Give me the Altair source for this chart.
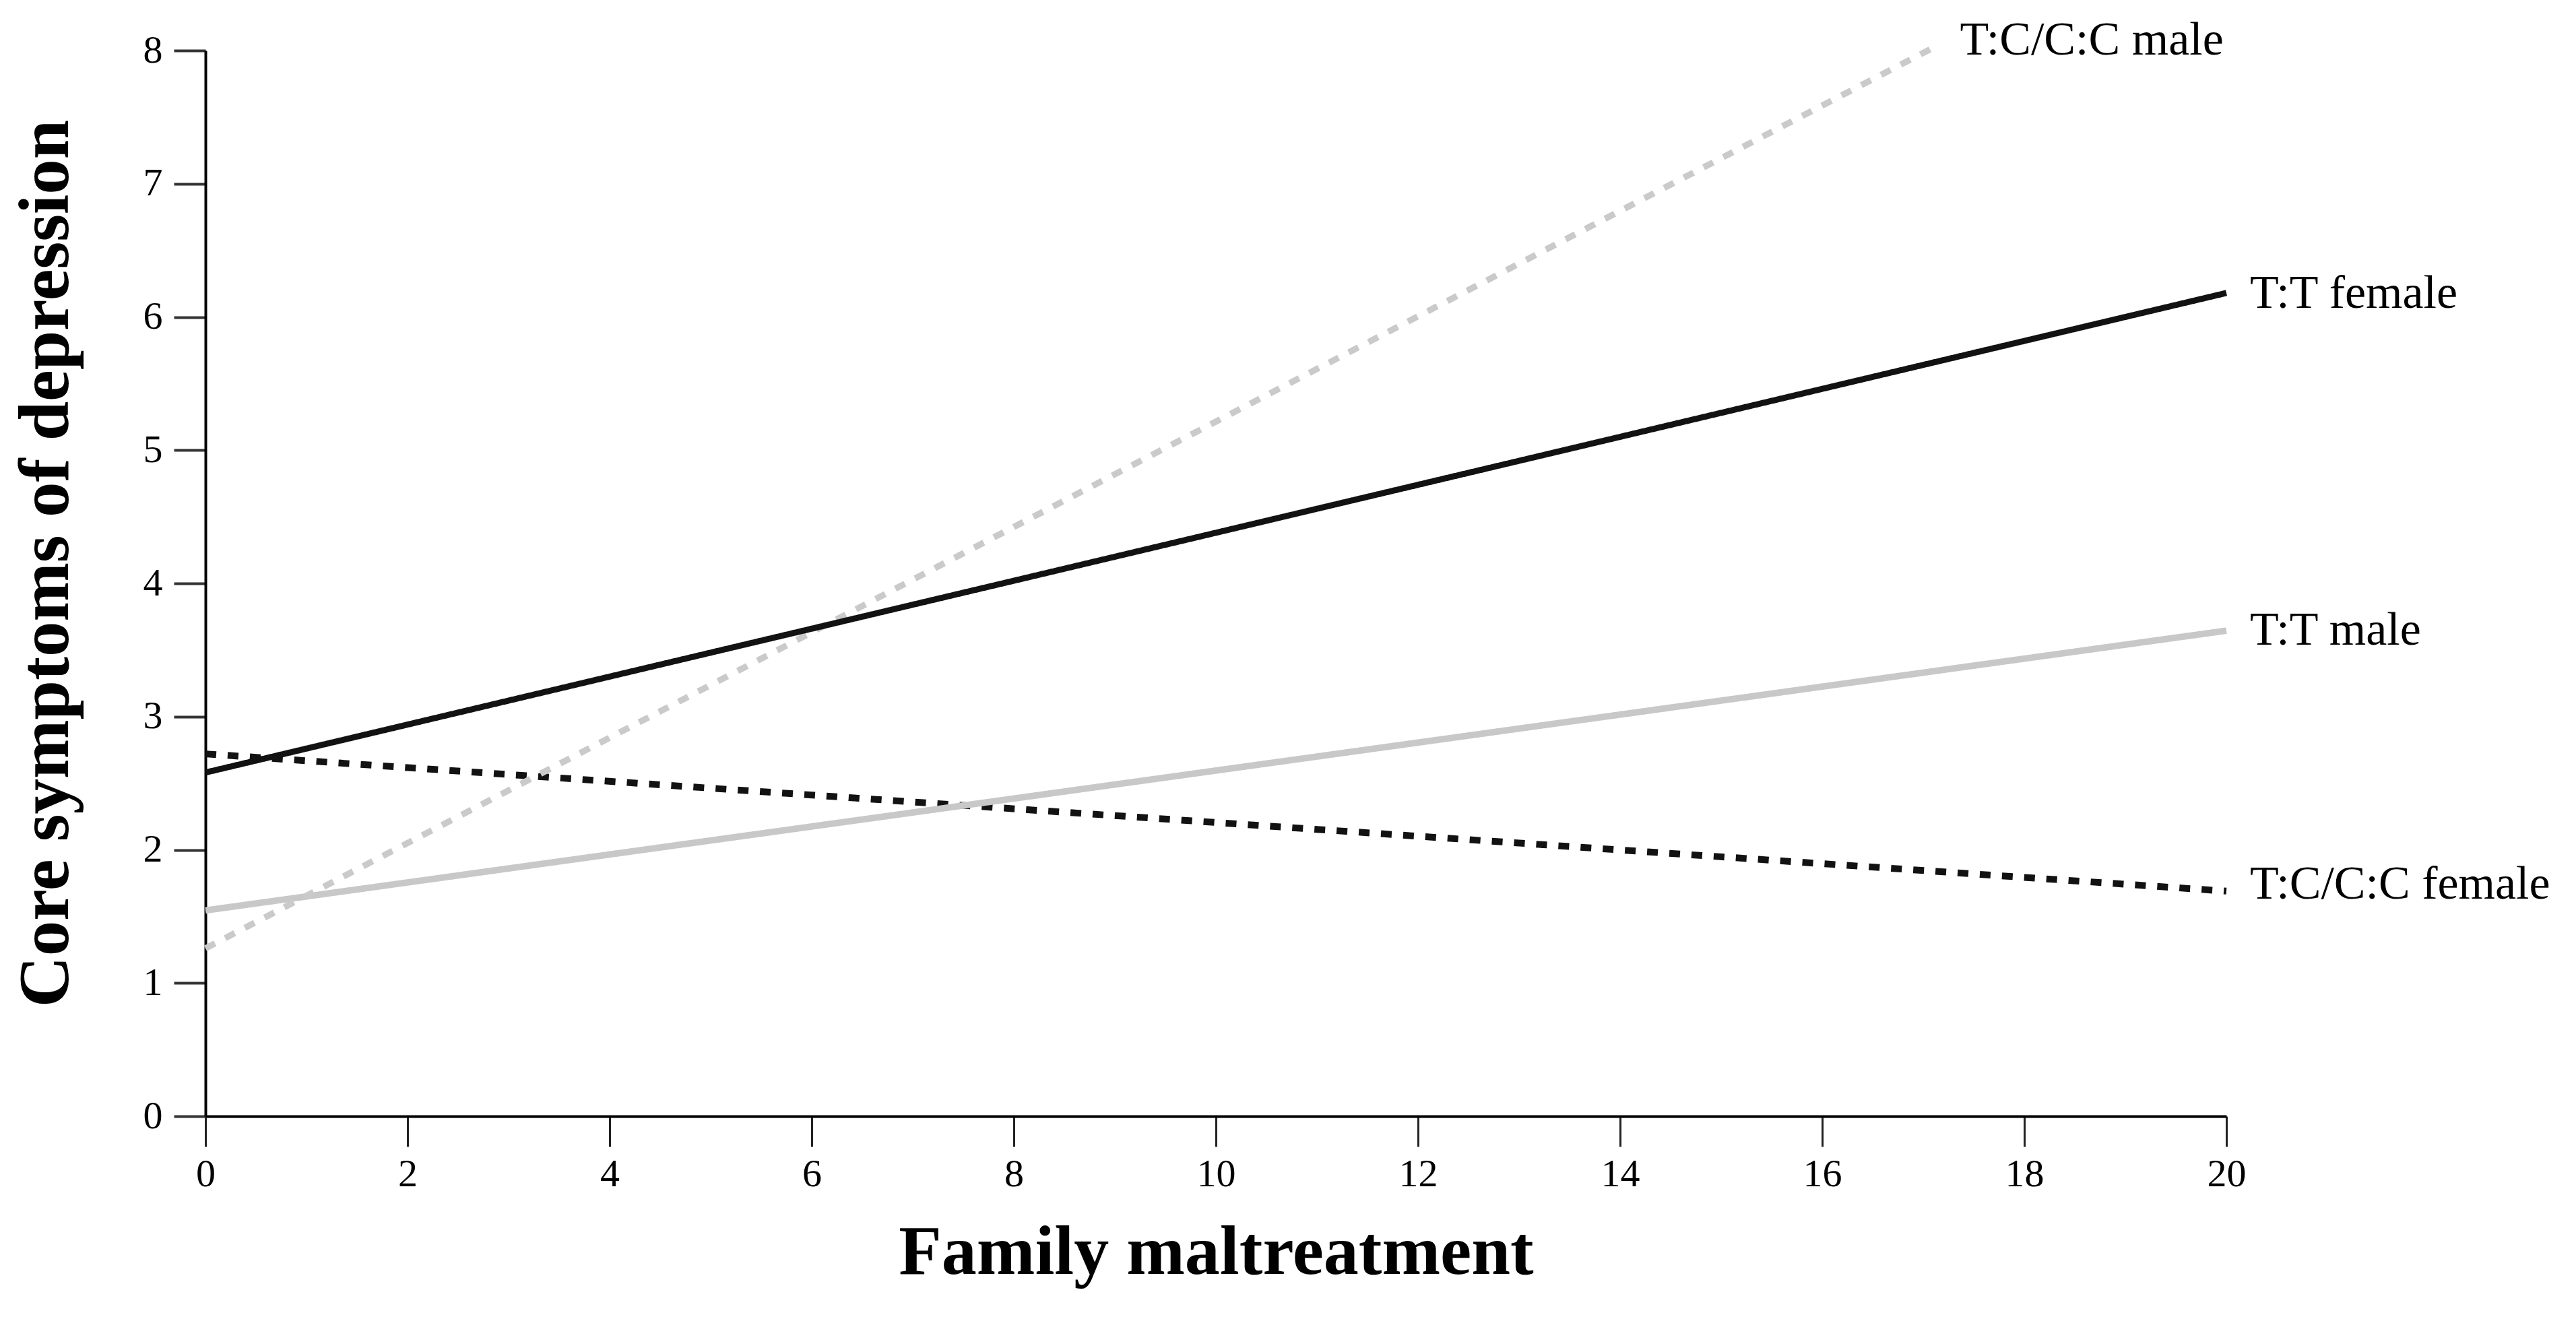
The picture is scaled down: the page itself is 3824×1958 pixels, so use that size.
import altair as alt
import pandas as pd

# Series (regression lines)
series = ["T:C/C:C female", "T:T male", "T:C/C:C male", "T:T female"]
x_start = [0, 0, 0, 0]
x_end = [20, 20, 17.07, 20]
y_start = [2.72, 1.545, 1.26, 2.58]
y_end = [1.69, 3.645, 8.01, 6.18]

# Line labels
label_text = ["T:C/C:C female", "T:T male", "T:C/C:C male", "T:T female"]
label_x = [20, 20, 17.13, 20]
label_y = [1.635, 3.54, 7.97, 6.07]

x_ticks = list(range(0, 21, 2))
y_ticks = list(range(0, 9))

colors = ["#121212", "#c8c8c8", "#cacaca", "#121212"]
widths = [10, 9, 10, 5.5]
dashes = [[16, 17], [1, 0], [16, 17], [1, 0]]

rows = []
for i, s in enumerate(series):
    rows.append({"series": s, "x": x_start[i], "y": y_start[i], "ord": i})
    rows.append({"series": s, "x": x_end[i], "y": y_end[i], "ord": i})
lines_df = pd.DataFrame(rows)
labels_df = pd.DataFrame({"label": label_text, "x": label_x, "y": label_y})

FONT = "Liberation Serif"

xscale = alt.Scale(domain=[0, 20], nice=False, zero=False)
yscale = alt.Scale(domain=[0, 8], nice=False)

xaxis = alt.Axis(
    values=x_ticks, format="d", title="Family maltreatment", grid=False,
    titleFont=FONT, titleFontSize=104, titleFontWeight="bold", titleColor="#000",
    titleX=1500, titleY=233, titleBaseline="alphabetic", titleAlign="center",
    labelFont=FONT, labelFontSize=58, labelColor="#000", labelPadding=12, labelFlush=False,
    tickSize=45, tickWidth=3, tickColor="#222", domainWidth=4, domainColor="#000",
)
yaxis = alt.Axis(
    values=y_ticks, format="d", title="Core symptoms of depression", grid=False,
    titleFont=FONT, titleFontSize=105, titleFontWeight="bold", titleColor="#000",
    titleX=-205, titleY=761, titleBaseline="alphabetic", titleAlign="center", titleAngle=-90,
    labelFont=FONT, labelFontSize=58, labelColor="#000", labelPadding=17, labelFlush=False,
    tickSize=47, tickWidth=4, tickColor="#333", domainWidth=4, domainColor="#000",
)

lines = alt.Chart(lines_df).mark_line(strokeCap="butt").encode(
    x=alt.X("x:Q", scale=xscale, axis=xaxis),
    y=alt.Y("y:Q", scale=yscale, axis=yaxis),
    detail="series:N",
    order="ord:Q",
    color=alt.Color("series:N", scale=alt.Scale(domain=series, range=colors), legend=None),
    strokeWidth=alt.StrokeWidth("series:N", scale=alt.Scale(domain=series, range=widths), legend=None),
    strokeDash=alt.StrokeDash("series:N", scale=alt.Scale(domain=series, range=dashes), legend=None),
)

labels = alt.Chart(labels_df).mark_text(
    align="left", baseline="alphabetic", dx=35, font=FONT, fontSize=70, color="#000"
).encode(
    x=alt.X("x:Q", scale=xscale),
    y=alt.Y("y:Q", scale=yscale),
    text="label:N",
)

chart = alt.layer(lines, labels).properties(
    width=3000, height=1582,
    padding={"left": 297, "top": 67, "right": 500, "bottom": 280},
    autosize=alt.AutoSizeParams(type="none"),
    background="white",
).configure_view(stroke=None)

chart.save("out.html", embed_options={"renderer": "svg", "actions": False})
